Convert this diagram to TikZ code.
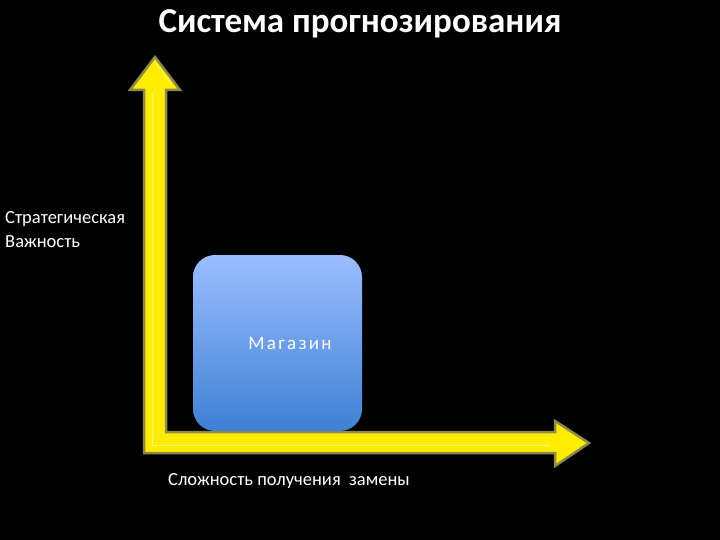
\documentclass[tikz,border=0pt]{standalone}
\usepackage{fontspec}
\setmainfont{Carlito}
\begin{document}
\begin{tikzpicture}[x=1pt,y=-1pt,
  lbl/.style={text=white,font=\fontsize{18.5}{24}\selectfont,inner sep=0pt},
  arr/.style={fill=yellow!95!orange,draw=yellow!50!black,line width=2.5pt,line join=miter}]
\useasboundingbox[fill=black] (0,0) rectangle (720,540);
\node[text=white,font=\bfseries\fontsize{35}{40}\selectfont] (title) at (360,24) {Система прогнозирования};
\draw[arr] (155,57) -- (180,90) -- (166,90) -- (166,432) -- (555,432) -- (555,421) -- (589,443) -- (555,466) -- (555,453) -- (144,453) -- (144,90) -- (130,90) -- cycle;
\draw[yellow!60!white,line width=1pt] (155,62) -- (172,86);
\draw[yellow!60!white,line width=1pt] (152,92) -- (152,445) -- (550,445);
\shade[rounded corners=22pt,top color={rgb,255:red,155;green,190;blue,255},bottom color={rgb,255:red,62;green,128;blue,212}] (193,255) rectangle (362,431);
\node[lbl,font=\fontsize{19}{24}\selectfont\addfontfeature{LetterSpace=12}] (mag) at (290,343) {Магазин};
\node[lbl,anchor=west,align=left] (imp) at (5,230) {Стратегическая\\Важность};
\node[lbl,anchor=west] (cx) at (168,481) {Сложность получения\ \ замены};
\end{tikzpicture}
\end{document}
